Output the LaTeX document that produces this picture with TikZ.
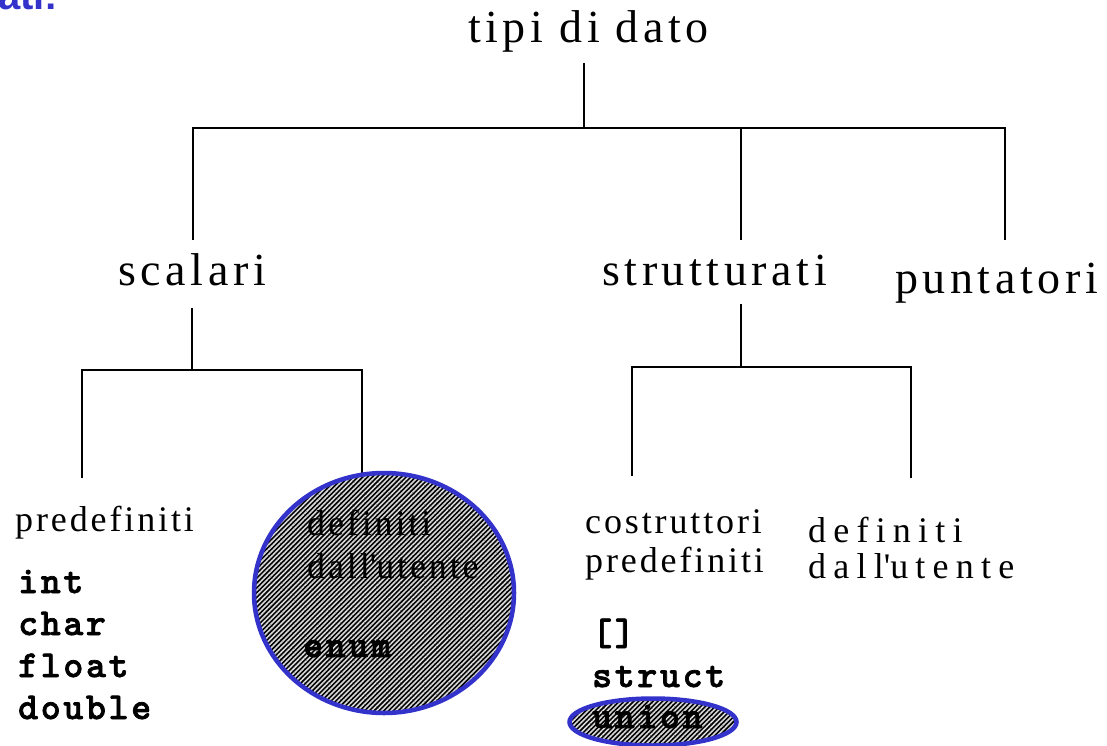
\documentclass[tikz,border=0pt]{standalone}
\usepackage{fontspec}
\setmainfont{Liberation Serif}
\newfontfamily\toplbl[LetterSpace=10]{Liberation Serif}
\newfontfamily\sublbl[LetterSpace=8]{Liberation Serif}
\newfontfamily\widelbl[LetterSpace=20]{Liberation Serif}
\newfontfamily\codefont[LetterSpace=7,FakeBold=1.8]{lmmonolt10-bold.otf}
\newfontfamily\titlefont{Liberation Sans}
\usetikzlibrary{shapes.geometric,patterns.meta}
\definecolor{ringblue}{RGB}{51,51,204}

\begin{document}
\begin{tikzpicture}[x=1pt,y=-1pt,
	lvlone/.style={font=\toplbl\fontsize{46}{50}\selectfont, inner sep=0pt, anchor=base west},
	lvltwo/.style={font=\sublbl\fontsize{36}{40}\selectfont, inner sep=0pt, anchor=base west},
	lvlwide/.style={font=\widelbl\fontsize{36}{40}\selectfont, inner sep=0pt, anchor=base west},
	code/.style={font=\codefont\fontsize{38}{42}\selectfont, inner sep=0pt, anchor=base west},
	branch/.style={line width=2.2pt},
	hatched/.style={ellipse, draw=ringblue, line width=4.5pt, preaction={fill=black},
		pattern={Lines[angle=45,distance=3.4pt,line width=1.6pt]}, pattern color=white!85!black}]
	\useasboundingbox (0,0) rectangle (1107,746);

	% cut-off heading
	\begin{scope}
		\clip (0,0) rectangle (160,14);
		\node[font=\titlefont\bfseries\fontsize{40}{44}\selectfont, text=ringblue, anchor=base west, inner sep=0pt] (title) at (-2,10) {ati:};
	\end{scope}

	% first level
	\node[lvlone] (tipi) at (468,43) {tipi di dato};
	\node[lvlone] (scal) at (118,285) {scalari};
	\node[lvlone] (strut) at (602,285) {strutturati};
	\node[lvlone] (punt) at (895,293) {puntatori};

	\coordinate (bus1) at (584,128);
	\coordinate (sL) at (193,240);
	\coordinate (sM) at (741,240);
	\coordinate (sR) at (1005,240);
	\draw[branch] (bus1 |- tipi.south) ++(0,10) -- (bus1);
	\draw[branch] (sL) |- (bus1) -| (sR);
	\draw[branch] (bus1 -| sM) -- (sM);

	% scalari
	\coordinate (bus2) at (192,370);
	\coordinate (pL) at (82,478);
	\coordinate (pR) at (362,476);
	\draw[branch] (bus2 |- scal.south) ++(0,22) -- (bus2);
	\draw[branch] (pL) |- (bus2) -| (pR);

	% strutturati
	\coordinate (bus3) at (741,367);
	\coordinate (qL) at (632,476);
	\coordinate (qR) at (911,478);
	\draw[branch] (bus3 |- strut.south) ++(0,18) -- (bus3);
	\draw[branch] (qL) |- (bus3) -| (qR);

	\node[hatched, minimum width=260pt, minimum height=240pt] (udef) at (384,593) {};
	\node[hatched, minimum width=167pt, minimum height=47pt] (uring) at (653,722) {};

	% leaves
	\node[lvltwo] (pre) at (15,531) {predefiniti};
	\foreach \w [count=\i from 0] in {int,char,float,double}
		\node[code] (c\i) at (18,593+42*\i) {\w};

	\node[lvltwo] (udef1) at (307,535) {definiti};
	\node[lvltwo] (udef2) at (307,578) {dall\textquotesingle utente};
	\node[code] (enum) at (303,657) {enum};

	\node[lvltwo] (cost1) at (585,533) {costruttori};
	\node[lvltwo] (cost2) at (585,572) {predefiniti};
	\node[code] (arr) at (592,645) {[]};
	\node[code] (stru) at (592,687) {struct};
	\node[code] (uni) at (592,728) {union};

	\node[lvlwide] (def1) at (808,542) {definiti};
	\node[lvlwide] (def2) at (808,578) {dall\textquotesingle utente};
\end{tikzpicture}
\end{document}
